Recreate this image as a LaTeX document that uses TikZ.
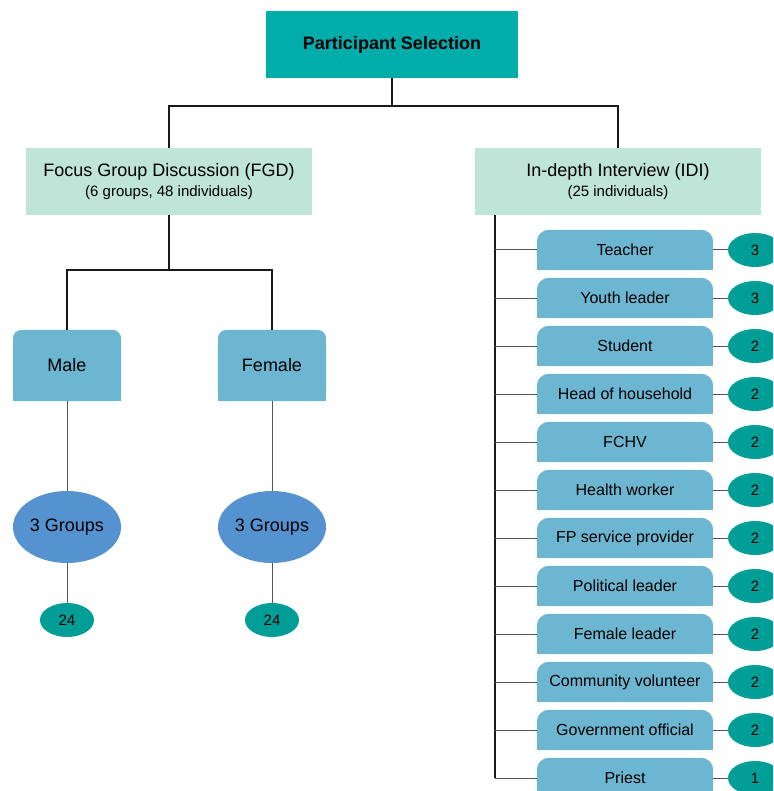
\documentclass[tikz,border=0pt]{standalone}
\usepackage{fontspec}
\setmainfont{Liberation Sans}
\usetikzlibrary{backgrounds,shapes.geometric}
\definecolor{topteal}{HTML}{00ADAA}
\definecolor{mint}{HTML}{BFE4D8}
\definecolor{boxblue}{HTML}{6DB6D1}
\definecolor{groupblue}{HTML}{5592D0}
\definecolor{smallteal}{HTML}{009E97}
\definecolor{linegray}{HTML}{555555}
\begin{document}
\begin{tikzpicture}[x=1pt,y=-1pt,
  topbox/.style={rectangle,fill=topteal,minimum width=252pt,minimum height=67pt,inner sep=0pt,font=\fontsize{18}{21}\selectfont\bfseries},
  midbox/.style={rectangle,fill=mint,minimum width=286pt,minimum height=67pt,inner sep=0pt,align=center},
  genbox/.style={rectangle,minimum width=108pt,minimum height=71pt,inner sep=0pt,font=\fontsize{18}{21}\selectfont},
  catbox/.style={rectangle,minimum width=176pt,minimum height=40pt,inner sep=0pt,font=\fontsize{16}{19}\selectfont},
  groupell/.style={ellipse,fill=groupblue,minimum width=108pt,minimum height=72pt,inner sep=0pt,font=\fontsize{18}{21}\selectfont},
  numell/.style={ellipse,fill=smallteal,minimum width=54pt,minimum height=34pt,inner sep=0pt,font=\fontsize{15}{18}\selectfont},
  mainline/.style={draw=black!90,line width=1.5pt},
  thinline/.style={draw=linegray,line width=1pt}]
\useasboundingbox (0,0) rectangle (773,791);
\clip (0,0) rectangle (773,791);

\node[topbox] (ps) at (392,44.5) {Participant Selection};
\node[midbox] (fgd) at (169,181.5) {\fontsize{18}{22}\selectfont Focus Group Discussion (FGD)\\[5pt]\fontsize{15}{18}\selectfont (6 groups, 48 individuals)};
\node[midbox] (idi) at (618,181.5) {\fontsize{18}{22}\selectfont In-depth Interview (IDI)\\[5pt]\fontsize{15}{18}\selectfont (25 individuals)};

\node[genbox] (male) at (67,365.5) {Male};
\node[genbox] (female) at (272,365.5) {Female};
\begin{scope}[on background layer]
  \foreach \n in {male,female}{
    \fill[boxblue,rounded corners=9pt] (\n.south west) rectangle (\n.north east);
    \fill[boxblue] (\n.south west) rectangle (\n.east);
  }
\end{scope}
\node[groupell] (mg) at (67,527) {3 Groups};
\node[groupell] (fg) at (272,527) {3 Groups};
\node[numell] (mn) at (67,620) {24};
\node[numell] (fn) at (272,620) {24};

\draw[mainline] (ps.south) -- ++(0,28) -| (fgd.north);
\draw[mainline] (ps.south) -- ++(0,28) -| (idi.north);
\draw[mainline] (fgd.south) -- ++(0,55) -| (male.north);
\draw[mainline] (fgd.south) -- ++(0,55) -| (female.north);
\draw[thinline] (male) -- (mg);
\draw[thinline] (mg) -- (mn);
\draw[thinline] (female) -- (fg);
\draw[thinline] (fg) -- (fn);

\foreach \lab/\num [count=\i from 0] in {Teacher/3,Youth leader/3,Student/2,Head of household/2,FCHV/2,Health worker/2,FP service provider/2,Political leader/2,Female leader/2,Community volunteer/2,Government official/2,Priest/1}{
  \node[catbox] (r\i) at (625,{250+48*\i}) {\lab};
  \node[numell] (e\i) at (755,{250+48*\i}) {\num};
  \begin{scope}[on background layer]
    \fill[boxblue,rounded corners=12pt] (r\i.south west) rectangle (r\i.north east);
    \fill[boxblue] (r\i.south west) rectangle (r\i.east);
  \end{scope}
  \draw[thinline] (r\i) -- (e\i);
}
\coordinate (itop) at ([xshift=20pt]idi.south west);
\coordinate (ibot) at (itop |- r11.west);
\draw[mainline] (itop) -- (ibot);
\foreach \i in {0,...,11}{
  \draw[thinline] (itop |- r\i.west) -- (r\i.west);
}
\end{tikzpicture}
\end{document}
